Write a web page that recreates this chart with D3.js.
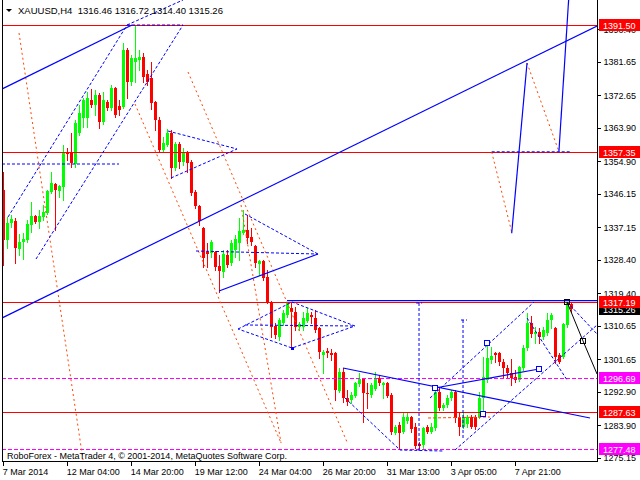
<!DOCTYPE html>
<html><head><meta charset="utf-8">
<script src="https://cdn.jsdelivr.net/npm/d3@7"></script>
<style>
body{margin:0;background:#fff}
svg{display:block}
text{font-family:"Liberation Sans",Arial,sans-serif}
</style>
</head><body>
<svg id="c" width="640" height="480"></svg>
<script>
// ---------- DATA ----------
const symbol = "XAUUSD", timeframe = "H4";
const opens = [1347.23,1333.78,1338.35,1338.89,1331.36,1333.24,1333.78,1337.81,1340.23,1338.62,1339.97,1341.04,1346.69,1348.84,1346.96,1348.03,1357.45,1357.18,1354.22,1362.56,1366.59,1366.59,1371.43,1370.09,1372.78,1365.52,1370.90,1369.28,1374.66,1369.82,1369.55,1384.88,1376.28,1381.65,1382.19,1383.00,1378.43,1377.35,1370.90,1366.05,1357.99,1359.33,1362.56,1353.14,1359.60,1354.76,1357.18,1354.76,1346.69,1342.92,1337.01,1330.55,1330.28,1330.55,1326.79,1325.17,1329.75,1327.59,1331.09,1332.97,1335.66,1336.47,1334.59,1332.17,1327.32,1328.13,1323.83,1317.10,1310.65,1307.69,1311.46,1313.61,1315.49,1314.41,1310.38,1310.38,1311.99,1313.61,1312.80,1310.11,1302.85,1303.93,1303.39,1303.39,1293.17,1298.28,1291.28,1290.75,1291.82,1295.05,1296.39,1292.63,1292.09,1293.70,1296.66,1294.78,1295.32,1292.09,1281.87,1284.02,1282.14,1285.10,1286.17,1283.48,1278.91,1278.64,1283.48,1282.14,1283.22,1292.90,1288.59,1289.40,1291.28,1292.90,1285.91,1283.48,1284.29,1286.17,1286.17,1286.17,1291.28,1296.13,1301.50,1303.39,1303.39,1300.97,1299.35,1298.01,1296.93,1296.13,1299.35,1304.73,1311.46,1308.50,1309.04,1307.69,1308.77,1312.26,1310.11,1302.85,1302.31,1310.92,1316.46];
const highs = [1352.07,1339.97,1340.50,1339.70,1335.39,1335.66,1339.16,1344.00,1340.50,1341.85,1343.19,1347.23,1352.07,1349.11,1348.57,1359.33,1358.52,1362.56,1366.05,1370.09,1371.97,1373.59,1374.39,1374.12,1373.32,1373.59,1371.43,1375.47,1374.93,1371.43,1386.76,1385.42,1383.54,1391.50,1384.88,1384.08,1379.50,1381.65,1371.20,1366.86,1361.48,1363.63,1363.37,1360.14,1360.14,1358.52,1357.72,1355.30,1347.23,1343.19,1337.30,1332.97,1333.78,1330.80,1329.75,1331.09,1331.09,1333.78,1335.12,1339.70,1341.85,1340.50,1337.01,1332.43,1328.40,1328.40,1325.71,1317.40,1311.46,1312.80,1314.95,1317.10,1317.10,1315.76,1311.72,1314.41,1315.49,1314.41,1314.95,1310.38,1304.19,1304.73,1304.46,1303.66,1299.35,1299.35,1293.44,1292.90,1295.59,1298.01,1296.66,1295.32,1295.32,1298.28,1297.47,1295.59,1295.59,1292.63,1284.02,1284.83,1287.25,1287.52,1286.50,1284.56,1279.45,1283.48,1284.02,1284.56,1294.24,1293.97,1289.94,1292.09,1293.44,1293.44,1287.25,1287.52,1286.71,1286.71,1286.71,1292.90,1302.31,1306.35,1305.00,1303.66,1303.66,1301.77,1300.16,1301.77,1298.81,1299.89,1305.54,1314.15,1313.34,1310.38,1310.11,1310.38,1314.15,1314.15,1310.38,1303.39,1311.46,1317.19,1316.72];
const lows = [1327.06,1331.63,1337.28,1327.59,1329.75,1328.67,1333.24,1335.93,1338.35,1337.01,1339.16,1340.77,1346.42,1336.47,1345.34,1344.54,1355.30,1353.41,1353.41,1362.02,1364.17,1364.17,1369.55,1367.40,1363.90,1364.98,1368.74,1368.74,1366.86,1367.40,1369.28,1371.97,1375.47,1376.28,1379.50,1376.28,1375.47,1369.01,1363.37,1357.45,1357.45,1359.06,1350.46,1352.61,1353.14,1353.95,1352.07,1345.88,1342.39,1337.81,1326.52,1326.52,1329.21,1325.71,1319.79,1323.83,1326.52,1327.06,1329.21,1328.40,1335.40,1332.97,1332.43,1326.52,1324.37,1323.02,1316.84,1307.69,1307.42,1306.88,1310.92,1313.07,1305.00,1309.57,1309.57,1309.57,1311.72,1311.46,1309.04,1302.04,1298.01,1302.31,1301.50,1290.75,1292.90,1290.21,1289.40,1289.94,1291.55,1294.51,1284.83,1288.59,1291.55,1293.44,1294.78,1291.28,1291.55,1281.60,1281.60,1277.90,1281.87,1284.56,1282.14,1277.84,1277.48,1277.84,1281.87,1281.87,1282.68,1288.06,1288.06,1288.86,1290.75,1284.83,1281.33,1283.22,1283.48,1283.20,1282.95,1285.91,1287.25,1295.59,1300.70,1300.97,1300.16,1296.93,1296.66,1294.78,1295.59,1295.86,1298.81,1304.19,1307.69,1306.08,1306.08,1307.15,1308.23,1310.11,1300.70,1300.70,1302.04,1310.38,1314.40];
const closes = [1333.78,1338.35,1339.43,1331.63,1333.24,1334.05,1338.08,1340.23,1338.62,1340.23,1341.31,1346.96,1349.11,1347.23,1348.30,1357.45,1356.91,1354.49,1365.25,1367.94,1371.43,1371.97,1370.09,1372.78,1365.52,1371.43,1369.28,1374.66,1367.40,1368.74,1384.88,1376.28,1382.73,1382.73,1383.00,1377.62,1376.28,1370.63,1366.05,1357.99,1359.87,1362.56,1353.14,1359.60,1354.76,1357.18,1354.49,1346.42,1342.92,1338.89,1328.94,1330.01,1333.24,1326.52,1325.44,1330.01,1327.06,1332.97,1334.05,1336.20,1336.47,1334.32,1333.24,1327.59,1328.13,1323.56,1317.10,1310.38,1308.23,1312.26,1314.15,1316.84,1314.41,1310.38,1311.19,1312.80,1314.15,1313.07,1309.57,1303.66,1303.66,1303.39,1302.85,1293.44,1298.28,1291.28,1290.21,1292.09,1295.32,1296.39,1292.63,1292.36,1294.78,1296.39,1295.32,1295.32,1291.82,1282.14,1283.48,1281.87,1286.17,1286.17,1282.95,1278.37,1278.37,1283.22,1282.14,1283.48,1292.90,1288.59,1289.40,1291.28,1292.90,1285.91,1283.48,1286.17,1286.17,1283.48,1283.48,1291.28,1296.93,1302.04,1302.58,1302.85,1300.97,1299.35,1298.01,1296.66,1296.13,1299.62,1304.73,1311.46,1308.50,1309.04,1307.69,1309.57,1312.26,1313.61,1302.31,1300.97,1311.19,1317.10,1315.26];

const xTickBars = [0,16,32,48,64,80,96,112,128];
const xTickLabels = ["7 Mar 2014","12 Mar 04:00","14 Mar 20:00","19 Mar 12:00","24 Mar 04:00","26 Mar 20:00","31 Mar 13:00","3 Apr 05:00","7 Apr 21:00"];
const yTickValues = [1390.40,1381.65,1372.65,1363.90,1354.90,1346.15,1337.15,1328.40,1319.40,1310.65,1301.65,1292.90,1283.90,1275.15];

const redLevels = [1391.50,1357.35,1317.19,1287.63];
const magentaLevels = [1296.69,1277.48];
const priceTags = [[1391.50,"#ff0000"],[1357.35,"#ff0000"],[1315.26,"#000000"],[1317.19,"#ff0000"],[1296.69,"#ff00ff"],[1287.63,"#ff0000"],[1277.48,"#ff00ff"]];

// drawing objects as [bar index, price] points
const blueSolid = [
  [[-0.33,1312.80],[148.43,1391.34]],
  [[-0.33,1374.39],[32.18,1391.61]],
  [[53.93,1320.06],[78.68,1330.01]],
  [[84.93,1299.35],[146.68,1285.91]],
  [[107.93,1293.97],[133.93,1299.08]],
  [[70.93,1317.50],[148.43,1317.50]],
  [[127.1,1335.6],[130.93,1381.39]],
  [[138.9,1357.5],[141.55,1402.0]]
];
const blueDashed = [
  [[1.18,1339.97],[30.93,1391.61]],
  [[8.18,1328.67],[44.93,1391.61]],
  [[30.93,1391.61],[44.93,1391.61]],
  [[30.93,1391.61],[44.93,1398.33]],
  [[-0.33,1354.22],[28.93,1354.22]],
  [[41.18,1363.09],[58.43,1358.26]],
  [[41.93,1350.46],[58.43,1358.26]],
  [[60.43,1340.77],[78.68,1330.01]],
  [[48.18,1330.82],[78.68,1330.01]],
  [[58.68,1309.84],[72.18,1317.10],[87.93,1310.65],[72.18,1304.73],[58.68,1309.84]],
  [[60.43,1310.92],[87.93,1310.65]],
  [[85.43,1291.28],[99.18,1277.30],[109.93,1277.03]],
  [[103.93,1316.84],[103.93,1276.76]],
  [[103.2,1316.84],[104.7,1316.84]],
  [[114.93,1312.26],[114.93,1280.0]],
  [[114.43,1312.26],[115.93,1312.26]],
  [[106.68,1291.28],[132.68,1317.10]],
  [[112.93,1277.30],[148.43,1310.92]],
  [[130.93,1312.80],[140.93,1296.13]],
  [[140.93,1317.10],[148.43,1308.50]],
  [[122.1,1357.5],[142.1,1357.5]]
];
const orangeDotted = [
  [[3.93,1389.45],[19.93,1274.61]],
  [[32.93,1370.36],[69.43,1279.2]],
  [[46.18,1378.96],[85.93,1279.45]],
  [[59.43,1343.19],[69.43,1279.2]],
  [[122.1,1357.45],[127.1,1335.93]],
  [[130.93,1381.39],[138.85,1357.72]]
];
const orangeDashed = [[[106.18,1285.91],[121.68,1286.17]]];
const blackForecast = [[140.93,1317.10],[144.93,1306.62],[148.43,1297.74]];
const blueMarkers = [[107.93,1293.97],[120.93,1306.08],[119.93,1286.98],[133.93,1299.08]];
const blackMarkers = [[140.93,1317.19],[144.93,1306.62]];
const watermark = "RoboForex - MetaTrader 4, © 2001-2014, MetaQuotes Software Corp.";

// ---------- CHART ----------
const svg = d3.select("#c");
const plotL = 2, plotR = 597, plotB = 461;
const x = d3.scaleLinear().domain([0, 148.5]).range([3.3, 597.3]);
const y = d3.scaleLinear().domain([1274.61, 1398.33]).range([460, 0]);

svg.append("rect").attr("width",640).attr("height",480).attr("fill","#fff");
svg.append("defs").append("clipPath").attr("id","plot")
  .append("rect").attr("x",plotL+1).attr("y",0).attr("width",plotR-plotL-1).attr("height",plotB);

const plot = svg.append("g").attr("clip-path","url(#plot)");

// candles
const idx = d3.range(opens.length);
const cg = plot.append("g").attr("shape-rendering","crispEdges");
idx.forEach(i=>{
  const bull = closes[i] >= opens[i];
  const col = bull ? "#00ff00" : "#ff0000";
  const cx = Math.floor(x(i)) + 0.5;
  cg.append("line").attr("x1",cx).attr("x2",cx)
    .attr("y1",Math.round(y(highs[i]))).attr("y2",Math.round(y(lows[i]))+1)
    .attr("stroke",col).attr("stroke-width",1);
  const top = Math.round(y(Math.max(opens[i],closes[i])));
  const bot = Math.round(y(Math.min(opens[i],closes[i])));
  cg.append("rect").attr("x",cx-1.5).attr("y",top).attr("width",3)
    .attr("height",Math.max(1,bot-top)).attr("fill",col);
});

// levels
const lv = plot.append("g").attr("shape-rendering","crispEdges");
magentaLevels.forEach(p=>{
  lv.append("line").attr("x1",plotL).attr("x2",plotR).attr("y1",Math.round(y(p))+0.5).attr("y2",Math.round(y(p))+0.5)
    .attr("stroke","#ff00ff").attr("stroke-dasharray","4,2");
});
redLevels.forEach(p=>{
  lv.append("line").attr("x1",plotL).attr("x2",plotR).attr("y1",Math.round(y(p))+0.5).attr("y2",Math.round(y(p))+0.5)
    .attr("stroke","#ff0000");
});

const line = d3.line().x(d=>x(d[0])).y(d=>y(d[1]));
const og = plot.append("g").attr("fill","none");
orangeDotted.forEach(s=>og.append("path").attr("d",line(s)).attr("stroke","#ff4500").attr("stroke-dasharray","2,3"));
orangeDashed.forEach(s=>og.append("path").attr("d",line(s)).attr("stroke","#ff4500").attr("stroke-dasharray","3,2"));
blueDashed.forEach(s=>og.append("path").attr("d",line(s)).attr("stroke","#0000ff").attr("stroke-dasharray","3,2"));
blueSolid.forEach(s=>og.append("path").attr("d",line(s)).attr("stroke","#0000ff").attr("stroke-width",1.2));
og.append("path").attr("d",line(blackForecast)).attr("stroke","#000").attr("stroke-width",1);

// markers
blueMarkers.forEach(m=>{
  plot.append("rect").attr("x",Math.round(x(m[0]))-2.5).attr("y",Math.round(y(m[1]))-2.5)
    .attr("width",5).attr("height",5).attr("fill","#fff").attr("stroke","#0000ff").attr("shape-rendering","crispEdges");
});
blackMarkers.forEach(m=>{
  plot.append("rect").attr("x",Math.round(x(m[0]))-2.5).attr("y",Math.round(y(m[1]))-2.5)
    .attr("width",5).attr("height",5).attr("fill","none").attr("stroke","#000").attr("shape-rendering","crispEdges");
});
plot.append("rect").attr("x",Math.round(x(72.18))-1).attr("y",Math.round(y(1304.73))-1)
  .attr("width",3).attr("height",3).attr("fill","#0000ff");

// frame
svg.append("path").attr("d",`M${plotL+0.5},0V${plotB+0.5}H${plotR+0.5}V0`)
  .attr("fill","none").attr("stroke","#000").attr("shape-rendering","crispEdges");

// axes
const yAxis = d3.axisRight(y).tickValues(yTickValues).tickFormat(d3.format(".2f")).tickSize(3).tickSizeOuter(0).tickPadding(3);
const ya = svg.append("g").attr("transform",`translate(${plotR+0.5},0)`).call(yAxis);
ya.select(".domain").remove();
ya.selectAll("text").attr("font-size",9).attr("font-family","Liberation Sans, Arial, sans-serif").attr("fill","#000");
ya.selectAll("line").attr("stroke","#000").attr("shape-rendering","crispEdges");

const xAxis = d3.axisBottom(x).tickValues(xTickBars).tickFormat((d,i)=>xTickLabels[i]).tickSize(4).tickSizeOuter(0).tickPadding(3);
const xa = svg.append("g").attr("transform",`translate(0,${plotB+0.5})`).call(xAxis);
xa.select(".domain").remove();
xa.selectAll("text").attr("font-size",9).attr("font-family","Liberation Sans, Arial, sans-serif").attr("fill","#000").attr("text-anchor","start").attr("x",-1);
xa.selectAll("line").attr("stroke","#000").attr("shape-rendering","crispEdges");

// price tags
priceTags.forEach(t=>{
  const py = Math.round(y(t[0]));
  svg.append("rect").attr("x",599).attr("y",py-6).attr("width",41).attr("height",12).attr("fill",t[1]);
  svg.append("text").attr("x",603).attr("y",py+3.5).attr("font-size",9).attr("fill","#fff").text(t[0].toFixed(2));
});

// title
const last = opens.length-1;
svg.append("path").attr("d","M6,9L12,9L9,12Z").attr("fill","#000");
svg.append("text").attr("x",18).attr("y",14).attr("font-size",9.5).attr("fill","#000").style("white-space","pre")
  .text(`${symbol},${timeframe}  ${opens[last].toFixed(2)} ${highs[last].toFixed(2)} ${lows[last].toFixed(2)} ${closes[last].toFixed(2)}`);

// watermark
svg.append("text").attr("x",7).attr("y",458.5).attr("font-size",9).attr("fill","#000").text(watermark);
</script>
</body></html>
